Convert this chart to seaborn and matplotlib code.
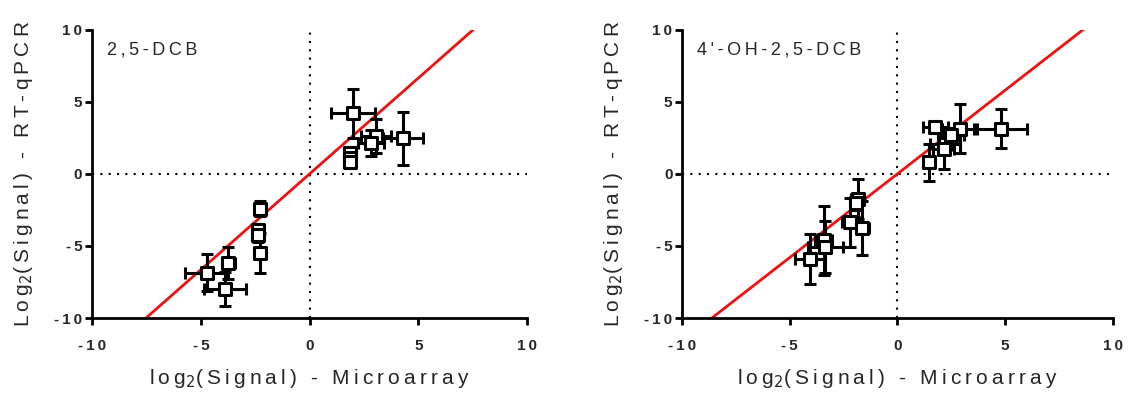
import numpy as np
import pandas as pd
import matplotlib
matplotlib.use('Agg')
import matplotlib.pyplot as plt
import seaborn as sns

# panel 1: 2,5-DCB
dcb_x = [1.99, 3.06, 2.81, 4.31, 1.86, 1.86, 1.86, -2.28, -2.35, -2.35, -2.30, -4.73, -3.73, -3.89]
dcb_y = [4.20, 2.64, 2.13, 2.48, 1.45, 1.10, 0.80, -2.40, -3.90, -4.25, -5.50, -6.85, -6.20, -8.00]
dcb_xerr = [1.00, 0.70, 0.60, 0.92, 0.15, 0.15, 0.15, 0.10, 0.15, 0.15, 0.10, 1.00, 0.30, 0.96]
dcb_yerr = [1.70, 1.20, 0.90, 1.85, 0.40, 0.40, 0.40, 0.50, 0.45, 0.50, 1.40, 1.30, 1.10, 1.20]
dcb_slope = 1.33

# panel 2: 4'-OH-2,5-DCB
oh_x = [1.77, 2.89, 4.81, 2.23, 2.15, 1.49, 2.50, -1.84, -1.90, -2.19, -1.64, -3.42, -3.35, -4.07]
oh_y = [3.24, 3.13, 3.13, 2.08, 1.73, 0.80, 2.70, -1.74, -2.00, -3.35, -3.76, -4.62, -5.09, -5.90]
oh_xerr = [0.60, 0.80, 1.23, 0.70, 0.50, 0.20, 0.60, 0.30, 0.20, 0.40, 0.30, 0.40, 0.80, 0.70]
oh_yerr = [0.40, 1.70, 1.35, 0.60, 1.40, 1.30, 0.50, 1.40, 0.50, 1.70, 1.90, 2.40, 1.80, 1.74]
oh_slope = 1.16

ticks = [-10, -5, 0, 5, 10]

sns.set_theme(style='white')
plt.rcParams['font.family'] = ['Liberation Sans', 'DejaVu Sans']


def spaced(s):
    return '\u2009'.join(s)


fig = plt.figure(figsize=(11.37, 3.98), dpi=100)
ax1 = fig.add_axes([0.081, 0.201, 0.3825, 0.724])
ax2 = fig.add_axes([0.600, 0.201, 0.3785, 0.724])

panels = [
    (ax1, dcb_x, dcb_y, dcb_xerr, dcb_yerr, dcb_slope, '2,5-DCB'),
    (ax2, oh_x, oh_y, oh_xerr, oh_yerr, oh_slope, "4'-OH-2,5-DCB"),
]

for ax, x, y, xe, ye, slope, name in panels:
    df = pd.DataFrame({'x': x, 'y': y})
    # fit line over whole x range, clipped by the axes
    fit = pd.DataFrame({'x': [-10, 10]})
    fit['y'] = slope * fit['x']
    sns.lineplot(data=fit, x='x', y='y', color='#ee1111', lw=2, ax=ax, zorder=2)
    ax.axhline(0, color='black', ls=(0, (1, 3)), lw=1.5, zorder=1)
    ax.axvline(0, color='black', ls=(0, (1, 3)), lw=1.5, zorder=1)
    ax.errorbar(x, y, xerr=xe, yerr=ye, fmt='none', ecolor='black',
                elinewidth=2.2, capsize=4, capthick=2.2, zorder=3)
    sns.scatterplot(data=df, x='x', y='y', marker='s', s=70, facecolor='white',
                    edgecolor='black', linewidth=2.2, ax=ax, zorder=4)

    ax.set_xlim(-10, 10)
    ax.set_ylim(-10, 10)
    ax.set_xticks(ticks)
    ax.set_yticks(ticks)
    ax.set_xticklabels([spaced(str(t)) for t in ticks], fontweight='bold', fontsize=11)
    ax.set_yticklabels([spaced(str(t)) for t in ticks], fontweight='bold', fontsize=11)
    ax.tick_params(axis='x', direction='out', length=5, width=2, color='black', pad=10,
                   bottom=True)
    ax.tick_params(axis='y', direction='out', length=5, width=2, color='black', pad=2,
                   left=True)
    for s in ['top', 'right']:
        ax.spines[s].set_visible(False)
    for s in ['left', 'bottom']:
        ax.spines[s].set_linewidth(2)
        ax.spines[s].set_color('black')
    ax.set_xlabel(spaced('log') + '$_2$' + spaced('(Signal) - Microarray'),
                  fontsize=15, labelpad=10)
    ax.set_ylabel(spaced('Log') + '$_2$' + spaced('(Signal) - RT-qPCR'),
                  fontsize=15, labelpad=14)
    ax.text(0.035, 0.96, spaced(name), transform=ax.transAxes, fontsize=13,
            va='top', ha='left')

fig.savefig('out.png', dpi=100)
